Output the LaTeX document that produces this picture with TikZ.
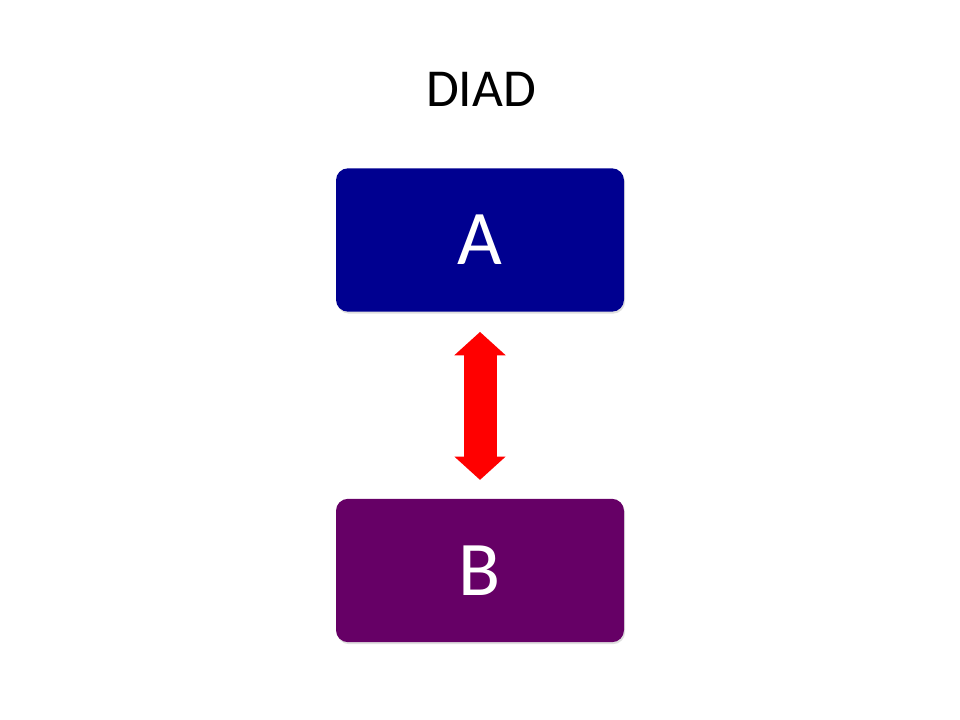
\documentclass[tikz,border=0pt]{standalone}
\usepackage{fontspec}
\setmainfont{Carlito}
\usetikzlibrary{arrows.meta,shadows}
\definecolor{boxblue}{RGB}{0,0,144}
\definecolor{boxpurple}{RGB}{102,0,102}
\tikzset{
    member/.style={rectangle, rounded corners=9pt, minimum width=216pt, minimum height=107.5pt,
        text=white, font=\fontsize{58}{60}\selectfont, inner sep=0pt,
        drop shadow={opacity=0.25, shadow xshift=0.8pt, shadow yshift=-1.5pt}},
    link/.style={red, line width=24.75pt,
        {Triangle[width=37.5pt,length=17.5pt]}-{Triangle[width=37.5pt,length=17.5pt]}}
}
\begin{document}
\begin{tikzpicture}[x=0.75pt,y=-0.75pt]

        \useasboundingbox (0,0) rectangle (960,720);

        \node (title) at (481,89) {\fontsize{40}{42}\selectfont DIAD};

        \node[member, fill=boxblue] (a) at (480,240) {A};
        \node[member, fill=boxpurple] (b) at (480,570.5) {B};

        \draw[link, shorten <=15pt, shorten >=14pt] (a.south) -- (b.north);
    \end{tikzpicture}
\end{document}
